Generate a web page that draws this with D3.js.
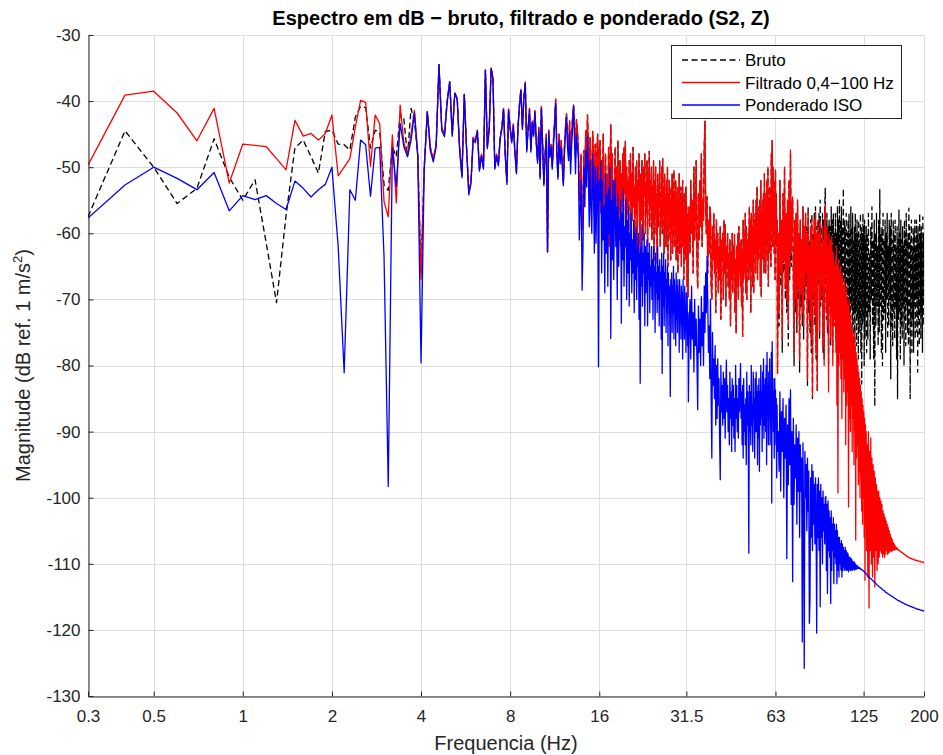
<!DOCTYPE html>
<html><head><meta charset="utf-8">
<script src="https://cdn.jsdelivr.net/npm/d3@7"></script>
<style>
body{margin:0;background:#fff;}
text{font-family:"Liberation Sans",Arial,Helvetica,sans-serif;}
</style>
</head><body>
<svg id="chart" width="943" height="755"></svg>
<script>
// ---------- tick labels / categories ----------
const xTicks = [0.3,0.5,1,2,4,8,16,31.5,63,125,200];
const xTickLabels = ["0.3","0.5","1","2","4","8","16","31.5","63","125","200"];
const yTicks = [-130,-120,-110,-100,-90,-80,-70,-60,-50,-40,-30];
const seriesNames = ["Bruto","Filtrado 0,4\u2212100 Hz","Ponderado ISO"];

// sampling grid of each block of values: [start Hz, step Hz]
const gridA = [0.3,0.1], gridB = [16.1,0.1], gridC = [32.2,0.2], gridD = [64.4,0.4],
      gridE = [128.6,0.6], gridEblue = [129.2,1.2];

// ---------- Filtrado (dB) ----------
const redA = [-49.7,-39.1,-38.5,-41.8,-46.0,-41.1,-52.4,-46.5,-46.7,-46.9,
-48.7,-50.4,-42.9,-45.3,-44.9,-45.9,-44.9,-42.1,
-51.3,-50.0,-48.7,-43.9,-39.9,-40.2,-49.9,-42.1,-43.4,-55.2,
-57.5,-45.1,-55.4,-40.6,-46.3,-48.2,-45.0,-41.4,-48.0,-67.0,
-50.0,-41.6,-47.0,-48.8,-46.5,-34.5,-44.1,-45.0,-40.0,-37.1,
-45.0,-38.8,-39.5,-47.0,-51.2,-39.0,-47.0,-53.8,-52.1,-45.5,
-46.0,-44.4,-50.3,-48.0,-50.0,-35.3,-46.9,-44.0,-35.0,-36.5,
-50.0,-48.0,-49.5,-45.6,-44.0,-41.1,-48.0,-52.2,-41.2,-44.0,
-46.0,-43.5,-47.5,-50.7,-44.0,-40.5,-38.2,-44.0,-39.5,-37.1,
-47.4,-44.0,-41.1,-47.4,-43.0,-45.0,-41.4,-46.0,-49.0,-44.0,
-51.4,-40.8,-46.5,-52.4,-48.0,-45.0,-62.8,-44.4,-48.0,-46.5,
-49.9,-46.0,-43.0,-39.7,-47.0,-51.4,-45.0,-48.5,-46.0,-49.0,
-52.4,-47.0,-44.0,-41.9,-45.5,-47.5,-43.0,-49.0,-45.0,-42.5,
-40.6,-44.0,-48.5,-42.8,-44.5,-46.9,-55.0,-52.0,-48.0,-59.5,
-56.0,-47.5,-51.0,-44.5,-49.0,-42.1,-47.0,-53.5,-45.5,-50.0,
-55.0,-44.6,-49.0,-57.0,-46.5,-58.0,-48.0,-45.0,-56.0,-47.0];
const redB = [-46,-57,-49,-59,-45,-54,-60,-48,-56,-51,
-58,-47,-62,-50,-43.6,-55,-48,-60,-52,-57,
-47,-61,-50,-55,-46,-58,-53,-49,-62,-51,
-56,-48,-60,-47,-54,-46.1,-59,-50,-57,-52,
-61,-49,-55,-48,-62,-51,-58,-47,-56,-53,
-60,-50,-57,-49,-63,-52,-55,-48,-59,-63,
-51,-58,-49,-56,-61,-50,-54,-48,-60,-53,
-57,-49,-62,-51,-55,-47.6,-59,-52,-56,-50,
-61,-53,-58,-49,-64,-52,-57,-50,-60,-54,
-64.5,-51,-59,-53,-56,-49,-62,-55,-58,-50,
-60,-48.7,-57,-53,-63,-51,-59,-55,-62,-52,
-58,-50,-65,-54,-61,-52,-57,-55,-64,-53,
-60,-51,-63,-56,-58,-50.5,-62,-54,-59,-52,
-64,-55,-60,-53,-66,-56,-61,-51,-63,-57,
-59,-53,-65,-55,-62,-52,-60,-56,-67,-54,
-61,-57,-64,-53,-60,-56,-68,-58,-69.6,-57];
const redC = [-56,-63,-52,-60,-55,-66,-50,-61,-57,-49,
-64,-68.3,-54,-61,-52,-59,-48,-62,-55,-58,
-47,-43,-56,-60,-54.5,-66,-58,-63,-56,-57,
-68,-70,-59,-64,-57,-66,-61,-72,-58,-65,
-60,-69,-62,-67,-59,-73,-61,-64,-60,-70,
-58,-66,-58.7,-71,-62,-65,-60,-68,-63,-70,
-61,-74,-63,-67,-60,-69,-62,-66,-60.2,-72,
-64,-75.1,-62,-68,-60,-70,-59,-66,-62,-68,
-61,-71,-63,-75.6,-58,-67,-60,-66,-57,-69,
-59,-70,-61,-64,-60,-67,-56,-65,-58,-72,
-57,-65,-59,-68,-55,-69,-58,-63,-57,-66,
-55,-63,-53,-67,-58,-64,-56,-62,-55,-68,
-52,-69.6,-57,-63,-55,-64,-54,-66,-51,-62,
-56,-66,-54,-61,-52,-64,-50,-68,-55,-63,
-53,-60,-57,-65,-48,-58,-46,-62,-50,-58,
-52,-63,-55,-67,-50.4,-60,-54,-62,-58,-81.2];
const redD = [-60,-72,-52,-66,-58,-76,-54,-64,-50,-68,
-57,-70,-55,-74,-52,-65,-47.4,-63,-56,-54.5,
-66,-78,-58,-70,-57,-73,-55,-68,-60,-79.2,
-58,-69,-61,-72,-56,-74,-59,-68,-57,-66,
-60,-82,-57,-70,-62,-73,-59,-76,-58,-84.7,
-61,-69,-58,-72,-57,-78,-60,-83.7,-58,-66,
-60,-75,-58,-70,-62,-68,-59,-77,-61,-80,
-57,-55.7,-66,-72,-59,-74,-62,-84,-60,-70,
-61,-76,-63,-60.5,-72,-80,-63,-74,-65,-73,
-64,-78,-62,-86,-65,-99.3,-64,-80,-66,-78,
-65,-82,-67,-88,-66,-79,-68,-84,-67,-82,
-69,-92,-68,-86,-70,-84,-71,-101.4,-70,-88,
-72,-90,-73,-86,-74,-93,-75,-88,-76,-95,
-75,-90,-77,-106.4,-78,-94,-79,-92,-80,-98,
-81,-96,-82,-100,-83,-97,-84,-102,-85,-104,
-86,-100,-87,-106,-88,-112.5,-89,-103,-90,-108];
const redE = [-92,-112,-90,-116.7,-93,-108,-91,-110,-94,-112,
-95,-109,-96,-113.5,-97,-108,-98,-111,-99,-110,
-99,-109,-100,-108,-100.5,-108.4,-101,-109,-102,-108.5,
-102.5,-109,-103,-108.5,-103.5,-108,-104,-108.6,-104.5,-108.3,
-105,-108.2,-105.5,-108,-106,-108.1,-106.3,-108,-106.8,-107.9,
-107,-107.9,-107.3,-107.8,-107.5,-107.8,-107.6,-107.8,-107.8,-107.9,
-108.0,-108.0,-108.1,-108.1,-108.2,-108.2,-108.3,-108.3,-108.4,-108.4,
-108.5,-108.5,-108.6,-108.6,-108.7,-108.7,-108.8,-108.8,-108.9,-108.9,
-109.0,-109.0,-109.0,-109.1,-109.1,-109.1,-109.2,-109.2,-109.2,-109.2,
-109.3,-109.3,-109.3,-109.3,-109.4,-109.4,-109.4,-109.4,-109.5,-109.5,
-109.5,-109.5,-109.5,-109.5,-109.6,-109.6,-109.6,-109.6,-109.6,-109.6,
-109.7,-109.7,-109.7,-109.7,-109.7,-109.7,-109.7,-109.8,-109.8,-109.8];

// ---------- Ponderado ISO (dB) ----------
const blueA = [-57.7,-52.7,-50.0,-51.7,-53.4,-50.8,-56.6,-54.3,-54.9,-54.3,
-55.5,-56.4,-52.1,-53.2,-54.5,-53.4,-52.6,-50.0,
-62.0,-81.1,-53.4,-55.0,-45.9,-46.6,-54.4,-47.1,-47.0,-63.6,
-98.3,-47.0,-52.9,-43.4,-46.9,-48.4,-46.0,-41.8,-48.5,-79.6,
-50.5,-41.6,-47.5,-49.2,-46.9,-34.5,-44.5,-45.4,-40.3,-37.1,
-45.3,-38.8,-39.8,-47.5,-51.6,-39.0,-47.3,-54.2,-52.5,-45.8,
-46.3,-44.6,-50.6,-48.3,-50.3,-35.3,-47.2,-44.3,-35.0,-36.7,
-50.3,-48.3,-49.8,-45.8,-44.2,-41.3,-48.3,-52.6,-41.4,-44.3,
-46.3,-43.8,-47.8,-51.0,-44.3,-40.8,-38.4,-44.3,-39.8,-37.3,
-47.7,-44.3,-41.4,-47.7,-43.3,-45.3,-41.7,-46.3,-49.4,-44.5,
-51.8,-41.1,-47.0,-52.8,-48.5,-45.5,-62.8,-44.7,-48.5,-47.0,
-50.3,-47.0,-44.0,-40.3,-48.0,-51.8,-46.0,-49.5,-47.0,-50.0,
-52.8,-48.0,-45.0,-42.4,-47.0,-49.0,-44.5,-51.0,-47.0,-44.0,
-40.8,-46.0,-51.0,-45.0,-47.0,-48.5,-61.0,-56.0,-52.0,-68.6,
-62.0,-50.0,-56.0,-47.5,-53.0,-45.4,-51.0,-59.0,-49.0,-56.5,
-60.0,-48.0,-53.0,-63.0,-50.0,-61.5,-53.0,-49.9,-80.2,-52.0];
const blueB = [-55,-49.2,-66,-52,-61,-56,-69,-51,-63,-54,
-68,-53,-60,-50,-75.9,-55,-64,-52,-67,-57,
-52,-62,-56,-70,-54,-65,-58,-61,-55,-73.6,
-57,-64,-53.4,-68,-59,-62,-55,-70,-58,-66,
-56,-71,-60,-64,-57,-69,-61,-66,-58,-72,
-60,-67,-59,-70,-62,-65,-60,-73,-63,-82.7,
-62,-68,-58.7,-71,-63,-66,-60,-74,-62,-69,
-64,-61,-74,-63,-67,-61.5,-72,-65,-68,-62,
-70,-64,-73,-62,-67,-65,-75,-63,-69,-66,
-72,-62,-70,-65,-74,-64,-68,-66,-76,-63,
-81.2,-65,-71,-63,-74,-66,-69,-64,-75,-67,
-72,-65,-77,-66,-70,-68,-74,-84.7,-67,-71,
-66,-75,-68,-72,-65,-76,-67,-70,-69,-77,
-66,-73,-68,-75,-67,-71,-69,-78,-67,-72,
-70,-76,-68,-74,-69,-79,-67,-73,-70,-76,
-68,-75,-71,-78,-69,-74,-69.6,-77,-72,-85.5];
const blueC = [-74,-70,-79,-68,-76,-72,-81,-70,-77,-73,
-79,-86.7,-71,-78,-73,-80,-69.6,-77,-72,-80,
-68,-75,-66,-72,-63.5,-70,-78,-74,-82,-70,
-85,-94,-75,-83,-79,-85,-77,-89,-80,-88,
-79,-86,-82,-91,-97.3,-80,-87,-83,-89,-81,
-88,-82,-91,-84,-79.2,-87,-83,-90,-85,-92,
-81,-88,-84,-93,-82,-89,-83,-91,-85,-93,
-80,-88,-83,-90,-85,-91,-82,-87,-84,-79.7,
-88,-84,-92,-83,-94,-82,-90,-86,-92,-85,
-95,-81,-89,-84,-92,-108.4,-83,-90,-84,-92,
-80,-89,-86,-93,-81,-88,-85,-94,-82,-90,
-81,-90,-84,-95,-83,-91,-82,-96,-84,-89,
-80,-88,-84,-93,-81,-89,-79,-91,-83,-89,
-82,-90,-80,-95,-78,-87,-83,-92,-81,-88,
-79,-92,-84,-89,-78,-100.8,-76.4,-88,-82,-90,
-84,-94,-82,-89,-83.7,-92,-85,-97,-86,-93];
const blueD = [-90,-96,-84,-99,-87,-93,-85,-100,-88,-94,
-86,-109.2,-89,-98,-85,-95,-83.7,-101,-90,-112.7,
-88,-101,-92,-97,-89,-104,-91,-99,-90,-106,
-92,-99,-94,-121.8,-91.7,-103,-125.8,-93,-100,-95,
-105,-94,-102,-96,-119,-115.5,-97,-106,-95,-108,
-96,-104,-98,-107,-97,-103,-120.5,-98,-106,-97,
-108,-99,-116.5,-98,-106,-100,-110,-99,-105,-101,
-107,-100,-99.8,-111,-101,-114.5,-100.5,-108,-102,-109,
-103,-116,-102,-111,-104,-108,-103,-113,-104,-109,
-105,-110,-104,-113,-105,-111,-106,-112,-106,-110,
-107,-110.9,-106.5,-112,-107,-111,-107.5,-110.5,-108,-111,
-107.5,-110.8,-108,-111,-108.3,-110.9,-108.5,-111.2,-109,-110.8,
-109,-111,-109.2,-110.9,-109.3,-111,-109.6,-110.8,-109.8,-110.9,
-109.7,-110.9,-110,-110.8,-110.2,-110.8,-110.3,-110.7,-110.4,-110.7,
-110.5,-110.7,-110.6,-110.8,-110.7,-110.8,-110.8,-110.9,-110.9,-111.0,
-111.0,-111.1,-111.1,-111.2,-111.2,-111.3,-111.4,-111.5,-111.5,-111.6];
const blueE = [-111.8,-112.0,-112.2,-112.3,-112.5,-112.7,-112.8,-113.0,-113.2,-113.3,
-113.5,-113.6,-113.7,-113.9,-114.0,-114.1,-114.3,-114.4,-114.5,-114.6,
-114.7,-114.8,-114.9,-115.0,-115.1,-115.2,-115.3,-115.4,-115.5,-115.6,
-115.6,-115.7,-115.8,-115.9,-115.9,-116.0,-116.1,-116.1,-116.2,-116.3,
-116.3,-116.4,-116.4,-116.5,-116.5,-116.6,-116.6,-116.7,-116.7,-116.8,
-116.8,-116.9,-116.9,-116.9,-117.0,-117.0,-117.0,-117.1,-117.1,-117.1];

// ---------- Bruto (dB): own values where it differs from Filtrado ----------
const blackA = [-57.5,-44.5,-50.0,-55.5,-53.2,-45.7,-51.5,-55.0,-51.9,-61.5,
-70.5,-57.3,-47.1,-45.9,-48.4,-50.9,-44.6,-44.4,
-46.5,-46.6,-47.4,-42.4,-40.8,-41.0,-47.1,-44.4,-44.7,-52.7,
-53.5,-46.9,-48.4,-42.0,-42.7,-48.4,-41.1,-43.0,-48.0,-66.0];
const blackD = [-61,-74,-52,-68,-58,-78,-54,-66,-50,-70,
-57,-72,-55,-77,-52,-67,-48,-65,-56,-55,
-68,-80,-58,-72,-57,-75,-55,-70,-60,-81,
-58,-71,-61,-74,-56,-76,-59,-70,-57,-68,
-59,-83,-56,-72,-61,-75,-58,-78,-57,-85,
-60,-71,-57,-74,-56,-79,-59,-84,-58,-68,
-57,-76,-55,-71,-59,-70,-57,-78,-58,-79,
-56,-53.2,-68,-73,-57,-75,-59,-80,-58,-71,
-59,-77,-56,-72,-58,-78,-57,-69,-60,-74,
-57,-76,-60,-72,-56,-79,-58,-70,-55,-77,
-58,-79,-56,-70,-59,-74,-53.2,-77,-58,-72,
-59,-73,-57,-80,-60,-71,-58,-76,-57,-74,
-60,-78,-56,-71,-59,-74,-57,-79,-61,-72,
-59,-81,-57,-72,-60,-77,-58,-73,-60,-79,
-58,-75,-61,-73,-57,-78,-59,-82.8,-60,-74,
-57,-73,-59,-80,-58,-76,-61,-72,-59,-78];
const blackE = [-60,-76,-57,-72,-63,-79,-59,-70,-56,-74,
-61,-79,-58,-86.2,-60,-74,-57,-71,-62,-77,
-58,-75,-53.4,-71,-60,-78,-59,-80,-57,-73,
-61,-72,-58,-78,-60,-70,-57,-76,-62,-74,
-58,-70,-59,-82,-57,-74,-61,-77,-58,-72,
-60,-76,-58,-71,-62,-79,-59,-85,-61,-73,
-56.5,-72,-60,-79,-58,-74,-61,-76,-59,-71,
-62,-80,-58,-73,-60,-77,-57,-71,-61,-75,
-60,-77,-56.2,-72,-59,-85,-61,-74,-58,-78,
-62,-73,-59,-78,-60,-71,-58,-76,-62,-70,
-58,-75,-60,-81,-59,-73,-61,-77,-57,-72,
-60,-76,-59,-72,-61,-78,-57.5,-74,-60,-70];

// ---------- build series ----------
function seg(vals, g){ return vals.map((v,i)=>({f:+(g[0]+i*g[1]).toFixed(2), v:v})); }
const filtrado = [].concat(seg(redA,gridA),seg(redB,gridB),seg(redC,gridC),seg(redD,gridD),seg(redE,gridE));
const ponderado = [].concat(seg(blueA,gridA),seg(blueB,gridB),seg(blueC,gridC),seg(blueD,gridD),seg(blueE,gridEblue));
const bruto = [].concat(seg(blackA,gridA),
  seg(redA.slice(blackA.length),[gridA[0]+blackA.length*gridA[1],gridA[1]]),
  seg(redB,gridB),seg(redC,gridC),seg(blackD,gridD),seg(blackE,gridE));

// ---------- drawing ----------
const L=88, R=924, T=35, B=696;
const svg = d3.select("#chart");
const x = d3.scaleLog().domain([0.3,200]).range([L,R]);
const y = d3.scaleLinear().domain([-130,-30]).range([B,T]);
const axisCol = "#262626";

svg.append("defs").append("clipPath").attr("id","clip")
  .append("rect").attr("x",L).attr("y",T).attr("width",R-L).attr("height",B-T);

// grid
const grid = svg.append("g").attr("stroke","#dedede").attr("stroke-width",1);
grid.selectAll(".gx").data(xTicks).join("line")
  .attr("x1",d=>Math.round(x(d))+0.5).attr("x2",d=>Math.round(x(d))+0.5)
  .attr("y1",T).attr("y2",B);
grid.selectAll(".gy").data(yTicks).join("line")
  .attr("y1",d=>Math.round(y(d))+0.5).attr("y2",d=>Math.round(y(d))+0.5)
  .attr("x1",L).attr("x2",R);

// series
const line = d3.line().x(d=>x(d.f)).y(d=>y(d.v));
const plot = svg.append("g").attr("clip-path","url(#clip)");
const series = [
  {name:seriesNames[0], data:bruto, color:"#000000", dash:"6,3.5"},
  {name:seriesNames[1], data:filtrado, color:"#ff0000", dash:null},
  {name:seriesNames[2], data:ponderado, color:"#0000ff", dash:null}
];
series.forEach(s=>{
  plot.append("path").datum(s.data)
    .attr("d",line).attr("fill","none")
    .attr("stroke",s.color).attr("stroke-width",1.3)
    .attr("stroke-linejoin","round")
    .attr("stroke-dasharray",s.dash);
});

// axes
const xAxis = d3.axisBottom(x).tickValues(xTicks).tickFormat((d,i)=>xTickLabels[i])
  .tickSizeInner(-5).tickSizeOuter(0).tickPadding(13);
const yAxis = d3.axisLeft(y).tickValues(yTicks).tickFormat(d=>String(d))
  .tickSizeInner(-5).tickSizeOuter(0).tickPadding(8);
const gx = svg.append("g").attr("transform",`translate(0,${B+0.5})`).call(xAxis);
const gy = svg.append("g").attr("transform",`translate(${L+0.5},0)`).call(yAxis);
[gx,gy].forEach(g=>{
  g.select(".domain").attr("stroke",axisCol).attr("stroke-width",1);
  g.selectAll(".tick line").attr("stroke",axisCol);
  g.selectAll(".tick text").attr("fill",axisCol).attr("font-size",17)
    .attr("font-family","'Liberation Sans',Arial,sans-serif");
});

// title and labels
svg.append("text").attr("x",521).attr("y",25).attr("text-anchor","middle")
  .attr("font-size",20).attr("font-weight","bold").attr("fill","#000")
  .text("Espectro em dB \u2212 bruto, filtrado e ponderado (S2, Z)");
svg.append("text").attr("x",(L+R)/2).attr("y",750).attr("text-anchor","middle")
  .attr("font-size",20).attr("fill",axisCol).text("Frequencia (Hz)");
const yl = svg.append("text").attr("transform",`translate(30,${(T+B)/2}) rotate(-90)`)
  .attr("text-anchor","middle").attr("font-size",20).attr("fill",axisCol);
yl.append("tspan").text("Magnitude (dB ref. 1 m/s");
yl.append("tspan").attr("dy",-8).attr("font-size",13).text("2");
yl.append("tspan").attr("dy",8).text(")");

// legend
const lg = svg.append("g");
lg.append("rect").attr("x",671.5).attr("y",45.5).attr("width",230).attr("height",73)
  .attr("fill","#fff").attr("stroke",axisCol).attr("stroke-width",1);
series.forEach((s,i)=>{
  const yy = 60 + i*22.5;
  lg.append("line").attr("x1",682).attr("x2",740).attr("y1",yy).attr("y2",yy)
    .attr("stroke",s.color).attr("stroke-width",1.3).attr("stroke-dasharray",s.dash);
  lg.append("text").attr("x",745).attr("y",yy+6).attr("font-size",17)
    .attr("fill","#000").text(s.name);
});
</script>
</body></html>
